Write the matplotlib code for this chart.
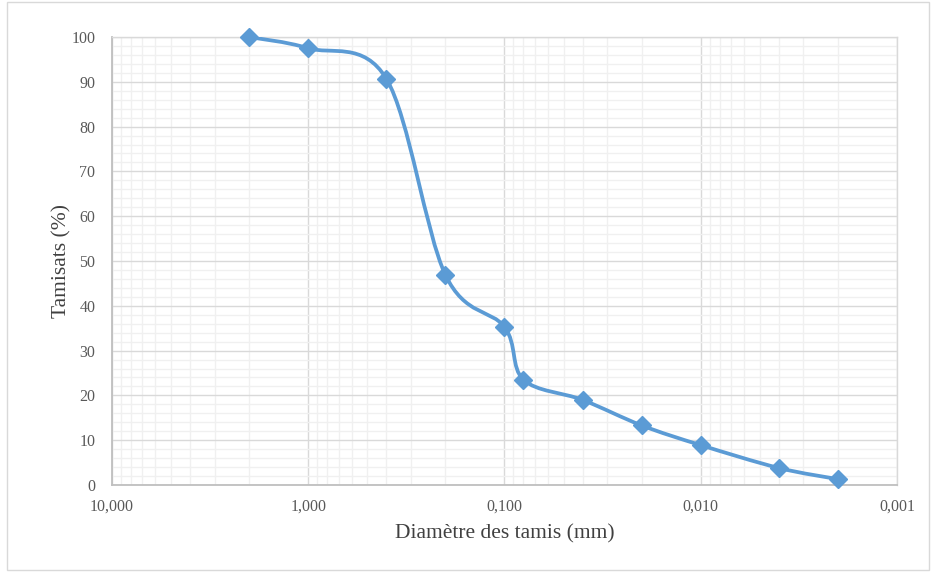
import matplotlib

matplotlib.use("Agg")
import matplotlib.pyplot as plt
import numpy as np
from matplotlib.patches import Rectangle
from matplotlib.path import Path
from matplotlib.patches import PathPatch
from matplotlib.ticker import FixedLocator, NullFormatter

plt.rcParams.update({
    "font.family": ["Liberation Serif", "DejaVu Serif"],
    "font.size": 11.5,
})

# sieve diameters (mm) and passing (%)
diam = [2.0, 1.0, 0.4, 0.2, 0.1, 0.08, 0.04, 0.02, 0.01, 0.004, 0.002]
passing = [100.0, 97.5, 90.7, 46.9, 35.3, 23.5, 19.0, 13.3, 8.9, 3.8, 1.3]

x_ticks = [10, 1, 0.1, 0.01, 0.001]
x_labels = ["10,000", "1,000", "0,100", "0,010", "0,001"]

BLUE = "#5b9bd5"


def smooth_path(xs, ys):
    # Catmull-Rom style smoothing (like Excel's smoothed line), done in log-x space
    lx = np.log10(xs)
    y = np.asarray(ys, dtype=float)
    n = len(lx)
    verts = [(xs[0], y[0])]
    codes = [Path.MOVETO]
    for i in range(n - 1):
        i0 = max(i - 1, 0)
        i3 = min(i + 2, n - 1)
        c1x = lx[i] + (lx[i + 1] - lx[i0]) / 6
        c1y = y[i] + (y[i + 1] - y[i0]) / 6
        c2x = lx[i + 1] - (lx[i3] - lx[i]) / 6
        c2y = y[i + 1] - (y[i3] - y[i]) / 6
        verts += [(10 ** c1x, c1y), (10 ** c2x, c2y), (xs[i + 1], y[i + 1])]
        codes += [Path.CURVE4] * 3
    return Path(verts, codes)


fig = plt.figure(figsize=(9.33, 5.73), dpi=100)
ax = fig.add_axes([0.12, 0.1536, 0.8414, 0.7818])

ax.set_xscale("log")
ax.set_xlim(10, 0.001)
ax.set_ylim(0, 100)

minor = [m * 10.0 ** e for e in range(-3, 1) for m in range(2, 10)]
ax.xaxis.set_major_locator(FixedLocator(x_ticks))
ax.xaxis.set_minor_locator(FixedLocator(minor))
ax.set_xticks(x_ticks)
ax.set_xticklabels(x_labels)
ax.xaxis.set_minor_formatter(NullFormatter())
ax.set_yticks(range(0, 101, 10))
ax.set_yticks(range(0, 101, 2), minor=True)

ax.grid(True, which="major", color="#d9d9d9", linewidth=1.0)
ax.grid(True, which="minor", color="#f0f0f0", linewidth=1.0)
ax.set_axisbelow(True)
ax.tick_params(which="both", length=0, colors="#595959", labelsize=11.5)
ax.tick_params(axis="x", pad=10)
ax.tick_params(axis="y", pad=12)

for side in ["left", "bottom"]:
    ax.spines[side].set_color("#bfbfbf")
    ax.spines[side].set_linewidth(1.3)
for side in ["right", "top"]:
    ax.spines[side].set_color("#d9d9d9")
    ax.spines[side].set_linewidth(1.0)

ax.add_patch(PathPatch(smooth_path(diam, passing), facecolor="none",
                       edgecolor=BLUE, linewidth=2.7, zorder=3))
ax.plot(diam, passing, linestyle="none", marker="D", markersize=9,
        color=BLUE, zorder=4, clip_on=False)

ax.set_xlabel("Diamètre des tamis (mm)", fontsize=15.5, color="#404040", labelpad=7)
ax.set_ylabel("Tamisats (%)", fontsize=15.5, color="#404040", labelpad=0)

fig.patches.append(Rectangle((0.008, 0.006), 0.988, 0.99, transform=fig.transFigure,
                             fill=False, edgecolor="#d9d9d9", linewidth=1.0))

fig.savefig("out.png", dpi=100)
